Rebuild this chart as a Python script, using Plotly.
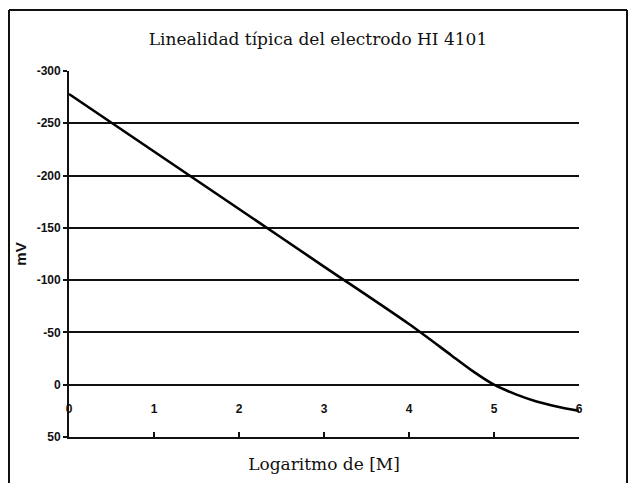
import plotly.graph_objects as go

# Data
log_m = [0, 1, 2, 3, 4, 4.5, 4.75, 5, 5.25, 5.5, 5.75, 6]
mv = [-278, -223, -168, -113, -58, -28, -13, 0, 9, 16, 21, 25]

x_ticks = [0, 1, 2, 3, 4, 5, 6]
y_ticks = [-300, -250, -200, -150, -100, -50, 0, 50]

title_text = "Linealidad típica del electrodo HI 4101"
x_title = "Logaritmo de [M]"
y_title = "mV"

W, H = 630, 483
L, R, T, B = 69, 51, 71, 46
pw, ph = W - L - R, H - T - B

def px_to_paper_x(px):
    return (px - L) / pw

def px_to_paper_y(py):
    return (H - B - py) / ph

fig = go.Figure()
fig.add_trace(go.Scatter(
    x=log_m, y=mv, mode="lines",
    line=dict(color="black", width=2.6, shape="spline", smoothing=0.8),
    showlegend=False, hoverinfo="skip",
))
# invisible trace to carry the secondary x axis (tick labels row)
fig.add_trace(go.Scatter(
    x=[x_ticks[0], x_ticks[-1]], y=[0, 0], xaxis="x2", mode="lines",
    line=dict(color="rgba(0,0,0,0)", width=0), showlegend=False, hoverinfo="skip",
))

tick_font = dict(family="Liberation Sans, Arial", size=12, color="#111", weight="bold")
serif_font = dict(family="DejaVu Serif", size=17, color="#111")

fx0, fx1 = px_to_paper_x(9), px_to_paper_x(627)
fy0, fy1 = px_to_paper_y(495), px_to_paper_y(10)
frame_line = dict(color="#111", width=2)

fig.update_layout(
    width=W, height=H,
    margin=dict(l=L, r=R, t=T, b=B, pad=0),
    paper_bgcolor="white", plot_bgcolor="white",
    title=dict(
        text=title_text, x=318 / W, xanchor="center", xref="container",
        y=1 - 39 / H, yanchor="middle", yref="container",
        font=serif_font,
    ),
    xaxis=dict(
        range=[0, 6], tickvals=x_ticks, showticklabels=False,
        ticks="inside", ticklen=5, tickwidth=1.5, tickcolor="#111",
        showline=True, linecolor="#111", linewidth=1.8,
        showgrid=False, zeroline=False,
        title=dict(text=x_title, standoff=20, font=serif_font),
    ),
    xaxis2=dict(
        range=[0, 6], tickvals=x_ticks, ticktext=[str(v) for v in x_ticks],
        overlaying="x", anchor="free", side="bottom",
        position=px_to_paper_y(400),
        showline=False, showgrid=False, zeroline=False, ticks="",
        tickfont=tick_font,
    ),
    yaxis=dict(
        range=[50, -300], tickvals=y_ticks, ticktext=[str(v) for v in y_ticks],
        ticks="outside", ticklen=4, tickwidth=1.5, tickcolor="#111",
        showline=True, linecolor="#111", linewidth=1.8,
        showgrid=True, gridcolor="#111", gridwidth=1.6,
        zeroline=False,
        tickfont=tick_font,
        title=dict(text=y_title, standoff=6,
                   font=dict(family="Liberation Sans, Arial", size=15, color="#111", weight="bold")),
    ),
    shapes=[
        dict(type="line", xref="paper", yref="paper", x0=fx0, x1=fx1, y0=fy1, y1=fy1, line=frame_line),
        dict(type="line", xref="paper", yref="paper", x0=fx0, x1=fx0, y0=fy0, y1=fy1, line=frame_line),
        dict(type="line", xref="paper", yref="paper", x0=fx1, x1=fx1, y0=fy0, y1=fy1, line=frame_line),
    ],
)

fig.write_html(
    "out.html",
    config={"displayModeBar": False},
    post_script="document.body.style.margin='0px';document.body.style.overflow='hidden';",
)
